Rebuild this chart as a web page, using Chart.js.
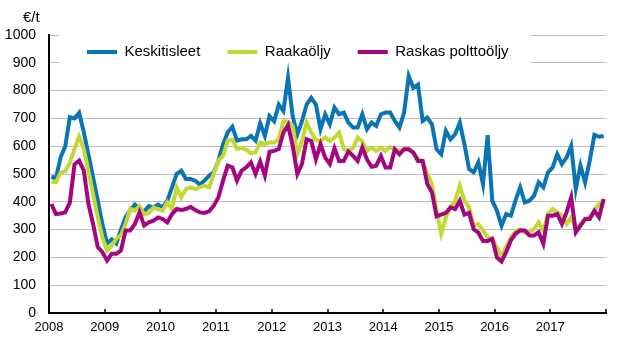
<!DOCTYPE html>
<html><head><meta charset="utf-8">
<script src="https://cdn.jsdelivr.net/npm/chart.js@4.4.0/dist/chart.umd.min.js"></script>
<style>html,body{margin:0;padding:0;background:#fff;overflow:hidden}</style>
</head><body>
<canvas id="c" width="628" height="363"></canvas>
<script>
const years = [2008, 2009, 2010, 2011, 2012, 2013, 2014, 2015, 2016, 2017];
const yTicks = [0, 100, 200, 300, 400, 500, 600, 700, 800, 900, 1000];
const seriesNames = ['Keskitisleet', 'Raakaöljy', 'Raskas polttoöljy'];
const unitLabel = '€/t';

const keskitisleet = [
  490, 485, 560, 600, 705, 700, 720, 650, 570, 488, 405, 320,
  250, 265, 250, 300, 345, 370, 390, 375, 365, 385, 380, 390,
  380, 404, 452, 500, 512, 482, 482, 476, 462, 476, 494, 506,
  548, 607, 650, 670, 620, 625, 625, 637, 620, 682, 637, 708,
  690, 750, 727, 846, 708, 643, 690, 750, 774, 750, 661, 715,
  679, 739, 715, 721, 685, 667, 667, 715, 661, 685, 673, 715,
  721, 721, 691, 667, 721, 852, 810, 822, 691, 703, 679, 589,
  571, 655, 625, 643, 685, 607, 518, 506, 542, 464, 640, 404,
  368, 314, 356, 350, 404, 452, 398, 404, 422, 470, 452, 506,
  524, 571, 536, 559, 601, 446, 530, 470, 548, 641, 634, 637
];
const raakaoljy = [
  473, 470, 505, 510, 540, 590, 635, 590, 510, 428, 345, 272,
  225, 243, 267, 280, 320, 375, 368, 385, 355, 360, 380, 373,
  368, 398, 374, 452, 416, 446, 452, 446, 452, 458, 452, 500,
  548, 565, 620, 623, 590, 594, 587, 575, 578, 613, 607, 613,
  613, 625, 690, 688, 673, 571, 619, 685, 649, 622, 619, 631,
  619, 631, 649, 590, 583, 593, 631, 617, 583, 595, 583, 595,
  583, 597, 589, 583, 589, 589, 577, 553, 547, 500, 464, 368,
  285, 345, 380, 404, 458, 404, 380, 315, 320, 297, 273, 267,
  235, 205, 240, 273, 294, 302, 290, 294, 302, 326, 296, 356,
  374, 362, 350, 320, 344, 302, 320, 338, 344, 368, 392, 404
];
const raskasPolttooljy = [
  392, 356, 358, 362, 398, 535, 548, 512, 392, 320, 237, 219,
  189, 213, 213, 225, 297, 297, 320, 362, 315, 326, 332, 344,
  338, 326, 356, 374, 371, 374, 382, 370, 362, 360, 366, 386,
  416, 476, 530, 524, 476, 512, 524, 542, 500, 545, 494, 580,
  583, 590, 649, 676, 601, 500, 536, 625, 619, 553, 607, 559,
  536, 593, 547, 547, 581, 565, 547, 595, 553, 526, 530, 565,
  523, 523, 589, 571, 589, 589, 577, 547, 547, 464, 434, 348,
  354, 360, 380, 374, 404, 354, 360, 301, 289, 259, 259, 267,
  200, 185, 220, 261, 285, 297, 297, 279, 279, 290, 249, 350,
  350, 356, 320, 362, 416, 290, 314, 338, 338, 368, 344, 410
];

const colors = ['#0a75b3', '#c3d834', '#a3067f'];
const FONT = '"Liberation Sans", Arial, sans-serif';
const toPoints = arr => arr.map((v, i) => ({ x: i + 0.5, y: v }));
const allSeries = [keskitisleet, raakaoljy, raskasPolttooljy];

const datasets = allSeries.map((arr, k) => ({
  label: seriesNames[k],
  data: toPoints(arr),
  borderColor: colors[k],
  backgroundColor: colors[k],
  borderWidth: 4,
  pointRadius: 0,
  tension: 0,
  order: 3 - k
}));

const decorPlugin = {
  id: 'decor',
  beforeLayout(chart) {
    const lg = chart.legend;
    if (lg && !lg._fitPatched) {
      const origFit = lg.fit.bind(lg);
      lg.fit = function () { origFit(); this.height = 0; };
      const origDraw = lg.draw.bind(lg);
      lg.draw = function () {
        const ctx = chart.ctx;
        ctx.save();
        ctx.fillStyle = '#ffffff';
        ctx.fillRect(59, 28, 472, 42);
        ctx.restore();
        origDraw();
      };
      lg._fitPatched = true;
    }
  },
  afterLayout(chart) {
    const lg = chart.legend;
    if (!lg) return;
    lg.left = 60; lg.right = 620; lg.top = 17.5; lg.bottom = 70;
    lg.width = lg.right - lg.left;
  },
  afterDraw(chart) {
    const ctx = chart.ctx;
    const xs = chart.scales.x;
    const bottom = chart.chartArea.bottom;
    ctx.save();
    ctx.strokeStyle = '#000';
    ctx.lineWidth = 1.5;
    for (let v = 0; v <= years.length * 12; v += 12) {
      const px = Math.round(xs.getPixelForValue(v));
      ctx.beginPath();
      ctx.moveTo(px, bottom);
      ctx.lineTo(px, bottom - 4);
      ctx.stroke();
    }
    ctx.fillStyle = '#000';
    ctx.font = '15px ' + FONT;
    ctx.textBaseline = 'alphabetic';
    ctx.textAlign = 'left';
    ctx.fillText(unitLabel, 23, 22);
    ctx.restore();
  }
};

new Chart(document.getElementById('c'), {
  type: 'line',
  data: { datasets },
  plugins: [decorPlugin],
  options: {
    responsive: false,
    animation: false,
    devicePixelRatio: 1,
    layout: { padding: { top: 35, right: 22, left: 0, bottom: 0 } },
    plugins: {
      tooltip: { enabled: false },
      legend: {
        position: 'top',
        align: 'start',
        labels: {
          boxWidth: 30,
          boxHeight: 4,
          padding: 27,
          color: '#000',
          font: { size: 15, family: FONT },
          generateLabels: chart => chart.data.datasets.map((d, i) => ({
            text: d.label, fillStyle: d.borderColor, strokeStyle: d.borderColor,
            lineWidth: 0, hidden: false, datasetIndex: i, fontColor: '#000'
          }))
        }
      }
    },
    scales: {
      x: {
        type: 'linear',
        min: 0,
        max: years.length * 12,
        afterFit: s => { s.height = 50; },
        border: { color: '#000', width: 2 },
        grid: { display: true, drawOnChartArea: false, drawTicks: false },
        ticks: {
          stepSize: 12,
          autoSkip: false,
          maxRotation: 0,
          padding: 7,
          color: '#000',
          font: { size: 13, family: FONT },
          callback: v => (v % 12 === 0 && v / 12 < years.length) ? String(years[v / 12]) : ''
        }
      },
      y: {
        min: yTicks[0],
        max: yTicks[yTicks.length - 1],
        afterFit: s => { s.width = 49; },
        border: { color: '#000', width: 2 },
        grid: { color: '#bfbfbf', lineWidth: 1, drawTicks: false },
        ticks: {
          stepSize: 100,
          padding: 13,
          color: '#000',
          font: { size: 14, family: FONT },
          callback: v => String(v)
        }
      }
    }
  }
});
</script>
</body></html>
